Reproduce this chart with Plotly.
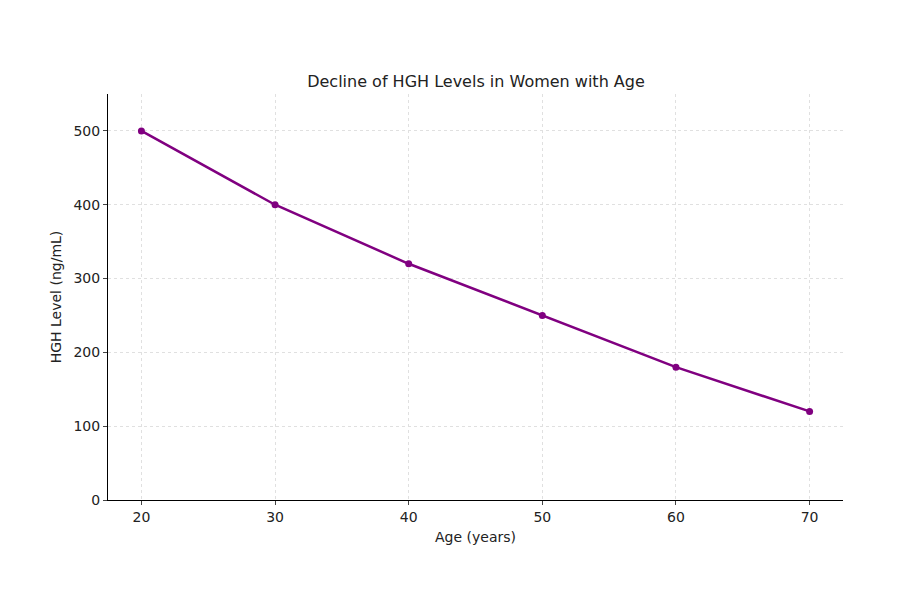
import plotly.graph_objects as go

ages = [20, 30, 40, 50, 60, 70]
hgh = [500, 400, 320, 250, 180, 120]

fig = go.Figure(go.Scatter(x=ages, y=hgh, mode="lines+markers",
    line=dict(color="#800080", width=2.5), marker=dict(color="#800080", size=7)))
fig.update_layout(
    width=900, height=600, plot_bgcolor="white", paper_bgcolor="white",
    margin=dict(l=100, r=65, t=86, b=108, autoexpand=False),
    font=dict(family="DejaVu Sans", size=14, color="#222"),
    title=dict(text="Decline of HGH Levels in Women with Age", x=0.52, xanchor="center",
               y=1 - 73/600, yanchor="middle", font=dict(size=16)),
    showlegend=False,
)
grid = dict(showgrid=True, gridcolor="#e0e0e0", griddash="dot", gridwidth=1,
            showline=True, linecolor="black", linewidth=1, ticks="outside", ticklen=4,
            zeroline=False, tickfont=dict(size=14), title_font=dict(size=14))
fig.update_xaxes(title_text="Age (years)", range=[17.5, 72.5], tickvals=ages, title_standoff=8, **grid)
fig.update_yaxes(title_text="HGH Level (ng/mL)", range=[0, 550], dtick=100, title_standoff=8, **grid)
fig.write_html("out.html")
